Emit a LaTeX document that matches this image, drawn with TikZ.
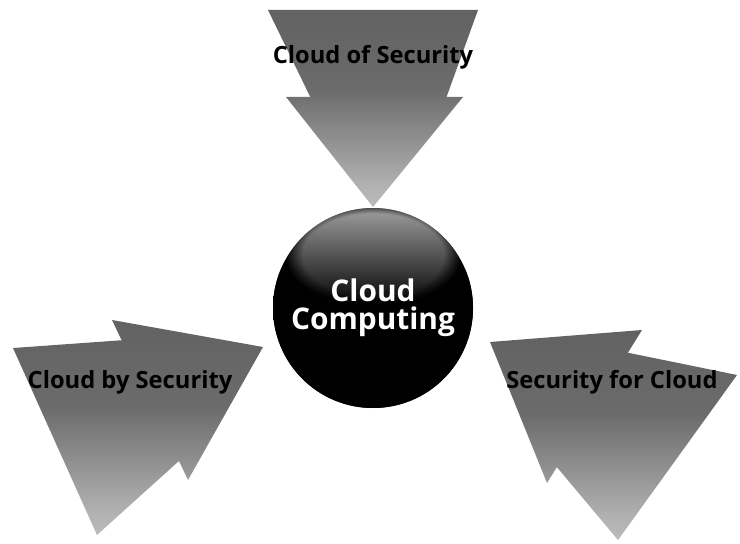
\documentclass[tikz,border=0pt]{standalone}
\usepackage{fontspec}
\setsansfont{Open Sans}
\usetikzlibrary{fadings}

\pgfdeclareverticalshading{arrowshade}{100bp}{color(0bp)=(black!12); color(30bp)=(black!30);
  color(55bp)=(black!58); color(100bp)=(black!66)}
\pgfdeclareradialshading{hubrim}{\pgfpoint{0bp}{0bp}}{color(0bp)=(black); color(36bp)=(black);
  color(50bp)=(black!50)}

\begin{document}
\begin{tikzpicture}[x=0.02cm, y=-0.02cm,
    arrow part/.style={shading=arrowshade},
    label text/.style={font=\sffamily\bfseries\fontsize{13.5}{15}\selectfont, text=black, inner sep=0pt},
    hub text/.style={font=\sffamily\bfseries\fontsize{17}{19}\selectfont, text=white, align=center}]

\useasboundingbox (0,0) rectangle (740,544);

% top arrow
\shade[arrow part] (268,10) -- (478,10) -- (440,115) -- (319,115) -- cycle
  (286,97) -- (463,97) -- (373,207) -- cycle;
% left arrow
\shade[arrow part] (13,348) -- (125,340) -- (190,451) -- (97,535) -- cycle
  (112,320) -- (263,347) -- (188,480) -- cycle;
% right arrow
\shade[arrow part] (490,342) -- (642,330) -- (547,483) -- cycle
  (600,347) -- (737,375) -- (618,540) -- (540,447) -- cycle;

% hub
\node[circle, fill=black, minimum size=200*0.02cm, inner sep=0pt] (hub) at (373,308) {};
\begin{scope}
  \clip (hub.center) circle[radius=100];
  \shade[shading=hubrim] (373,318) circle[radius=104];
  \shade[top color=black!35, bottom color=black, path fading=circle with fuzzy edge 20 percent]
    (373,255) ellipse[x radius=88, y radius=52];
\end{scope}
\node[hub text] (hubtext) at (hub.center) {Cloud\\[-3pt]Computing};

\node[label text] (cos) at (373,57) {Cloud of Security};
\node[label text] (cbs) at (130,382) {Cloud by Security};
\node[label text] (sfc) at (612,382) {Security for Cloud};

\end{tikzpicture}
\end{document}
